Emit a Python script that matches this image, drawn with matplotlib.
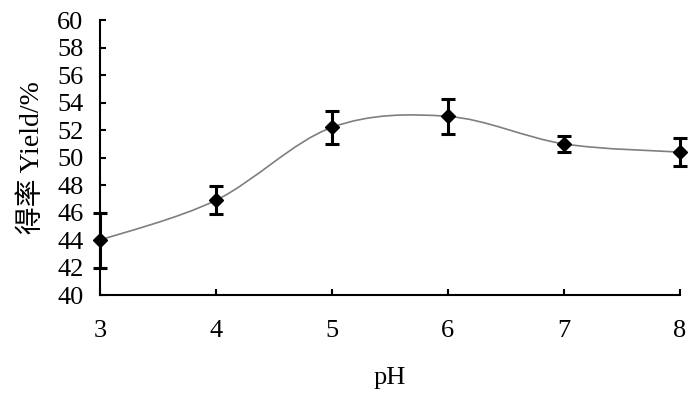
import matplotlib
matplotlib.use("Agg")
import matplotlib.pyplot as plt
from matplotlib.path import Path
from matplotlib.patches import PathPatch
import numpy as np

ph = [3, 4, 5, 6, 7, 8]
yield_pct = [44.0, 46.9, 52.2, 53.0, 51.0, 50.4]
yield_err = [2.0, 1.0, 1.2, 1.25, 0.6, 1.0]
y_ticks = [40, 42, 44, 46, 48, 50, 52, 54, 56, 58, 60]
x_ticks = [3, 4, 5, 6, 7, 8]

fig = plt.figure(figsize=(7.0, 3.95), dpi=100)
ax = fig.add_axes([0.143, 0.253, 0.828, 0.696])

# Excel-style smoothed line (cubic Bezier through the points)
pts = np.column_stack([ph, yield_pct]).astype(float)
n = len(pts)
verts = [pts[0]]
codes = [Path.MOVETO]
for i in range(n - 1):
    p0 = pts[i - 1] if i > 0 else pts[i]
    p1 = pts[i]
    p2 = pts[i + 1]
    p3 = pts[i + 2] if i + 2 < n else pts[i + 1]
    c1 = p1 + (p2 - p0) / 6.0
    c2 = p2 - (p3 - p1) / 6.0
    verts += [c1, c2, p2]
    codes += [Path.CURVE4] * 3
ax.add_patch(PathPatch(Path(verts, codes), facecolor="none",
                       edgecolor="#7f7f7f", lw=1.2, zorder=2))

ax.errorbar(ph, yield_pct, yerr=yield_err, fmt="D", color="black",
            ms=7.5, ecolor="black", elinewidth=2.2, capsize=5, capthick=2.2,
            zorder=3, clip_on=False)

ax.set_xlim(3, 8)
ax.set_ylim(40, 60)
ax.set_xticks(x_ticks)
ax.set_yticks(y_ticks)
for s in ["top", "right"]:
    ax.spines[s].set_visible(False)
for s in ["left", "bottom"]:
    ax.spines[s].set_linewidth(1.5)
ax.tick_params(direction="in", length=4, width=1.5, labelsize=19)
ax.tick_params(axis="x", pad=18)
ax.tick_params(axis="y", pad=12)
for lab in ax.get_xticklabels() + ax.get_yticklabels():
    lab.set_fontfamily("Liberation Serif")

ax.set_xlabel("pH", fontsize=19, family="Liberation Serif", labelpad=18)
ax.set_ylabel("得率 Yield/%", fontsize=20,
              family=["Liberation Serif", "Noto Sans CJK SC"], labelpad=9)

fig.savefig("out.png", dpi=100)
